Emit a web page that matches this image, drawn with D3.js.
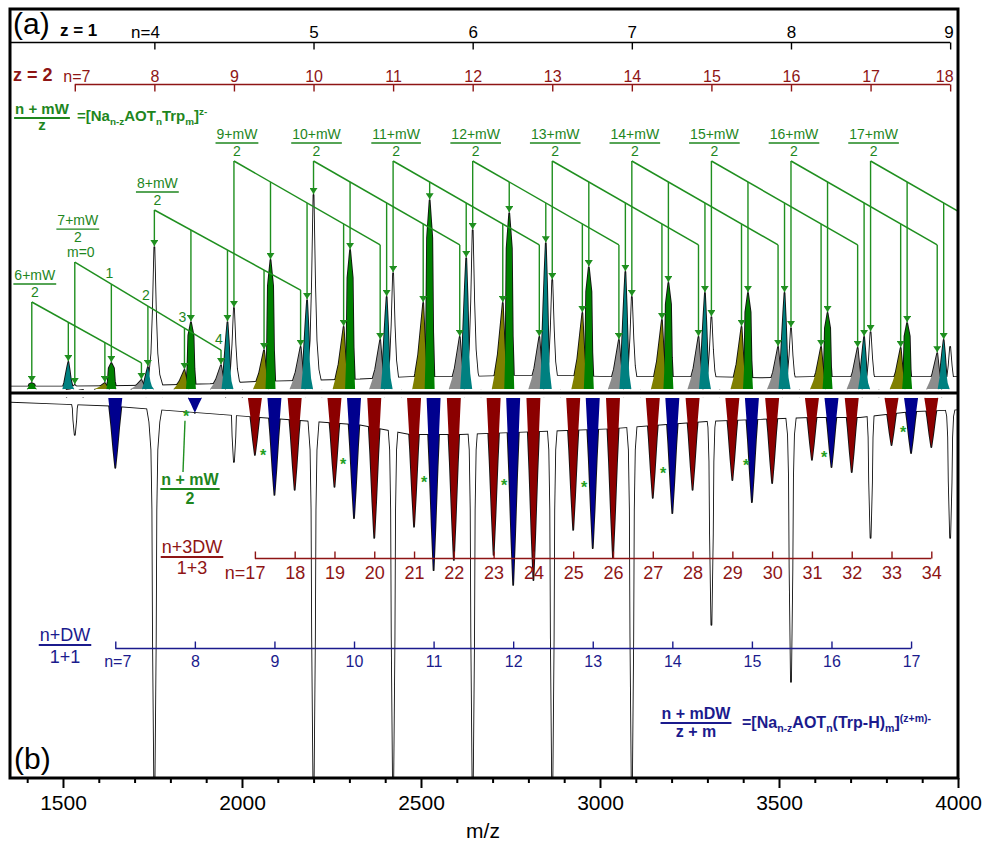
<!DOCTYPE html>
<html><head><meta charset="utf-8">
<script src="https://cdn.jsdelivr.net/npm/d3@7"></script>
<style>body{margin:0;background:#fff}svg{display:block;font-family:"Liberation Sans",Helvetica,Arial,sans-serif}</style>
</head><body><svg id="c" width="984" height="842"></svg>
<script>
// ---------------- data ----------------
const xMajor = [1500, 2000, 2500, 3000, 3500, 4000];
const xMinor = [1400,1600,1700,1800,1900,2100,2200,2300,2400,2600,2700,2800,2900,3100,3200,3300,3400,3600,3700,3800,3900];

// z = 1 cluster axis
const z1N  = [4, 5, 6, 7, 8, 9];
const z1Mz = [1755.25, 2199.81, 2644.37, 3088.93, 3533.49, 3978.05];
// z = 2 cluster axis
const z2N  = [7, 8, 9, 10, 11, 12, 13, 14, 15, 16, 17, 18];
const z2Mz = [1532.97, 1755.25, 1977.53, 2199.81, 2422.09, 2644.37, 2866.65, 3088.93, 3311.21, 3533.49, 3755.77, 3978.05];

// (a) peaks of [Na(n-z)AOTn Trp m]^2-  (intensity, % of panel height)
const topM0Mz  = [1532.97, 1755.25, 1977.53, 2199.81, 2422.09, 2644.37, 2866.65, 3088.93, 3311.21, 3533.49, 3755.77, 3978.05]; // n = 7..18
const topM0Int = [1.7, 59.4, 33.9, 81.2, 48.5, 66.5, 45.6, 38.5, 30.1, 25.5, 23.8, 17.6];
const topM1Mz  = [1412.85, 1635.09, 1857.37, 2079.65, 2301.93, 2524.21, 2746.49, 2968.77, 3191.05, 3413.33, 3635.61, 3857.89]; // n = 6..17
const topM1Int = [2.5, 10.9, 28, 54, 58.2, 79, 73.6, 51, 44.4, 40.2, 31.8, 27.6];
const topM2Mz  = [1514.92, 1737.2, 1959.48, 2181.76, 2404.04, 2626.32, 2848.6, 3070.88, 3293.16, 3515.44, 3737.72, 3960.0];   // n = 6..17
const topM2Int = [11.3, 9.2, 28, 37.2, 38.5, 54.8, 61, 49, 40.2, 40.2, 21.8, 20.5];
const topM3Mz  = [1617.04, 1839.32, 2061.6, 2283.88, 2506.16, 2728.44, 2950.72, 3173.0, 3395.28, 3617.56, 3839.84];           // n = 6..16
const topM3Int = [2.5, 8, 16.3, 26, 36, 36, 31.8, 28.9, 26, 17.6, 17.2];
const topM4Mz  = [1719.15, 1941.43, 2163.71, 2385.99, 2608.27, 2830.55, 3052.83, 3275.11, 3497.39, 3719.67, 3941.95];        // n = 6..16
const topM4Int = [3.8, 10, 17.6, 20.5, 21.8, 21.8, 20.5, 21.8, 17.6, 17.2, 15];
// (a) unresolved background level of the trace between peaks
const topBgMz  = [1352, 1491.7, 1631.3, 1771, 1910.7, 2050.3, 2190, 2329.7, 2469.3, 2609, 2748.7, 2888.3, 3028, 3167.6, 3307.3, 3447, 3586.6, 3726.3, 3866, 4000];
const topBgInt = [1, 1, 1.2, 1.5, 2, 3, 3.5, 4, 5, 5, 5.5, 5.5, 5, 5, 5, 4.5, 5, 5, 5, 5];

// annotation series (n + mW)/2
const annN        = [6, 7, 8, 9, 10, 11, 12, 13, 14, 15, 16, 17];
const annFirstM   = [1, 0, 0, 0, 0, 0, 0, 0, 0, 0, 0, 0];
const annStartInt = [36.4, 53.1, 74.9, 95.4, 95.4, 95.4, 95.4, 95.4, 95.4, 95.4, 95.4, 95.4];
const annEndInt   = [10.9, 16.3, 41.4, 60.3, 60.3, 60.3, 60.3, 60.3, 60.3, 60.3, 60.3, 60.3];
const annEndMz    = [1719.15, 1941.43, 2163.71, 2385.99, 2608.27, 2830.55, 3052.83, 3275.11, 3497.39, 3719.67, 3941.95, 4164.23];
const mLabels     = ['m=0', '1', '2', '3', '4'];

// (b) peaks (intensity downward, % of panel height)
const dwN   = [7, 8, 9, 10, 11, 12, 13, 14, 15, 16, 17];
const dwMz  = [1646.08, 1868.36, 2090.64, 2312.92, 2535.2, 2757.48, 2979.76, 3202.04, 3424.32, 3646.6, 3868.88];
const dwInt = [18.4, 3.9, 25.5, 31.6, 45.3, 49.2, 39.5, 30.3, 27.4, 18.2, 14.5];
const d3wN   = [17, 18, 19, 20, 21, 22, 23, 24, 25, 26, 27, 28, 29, 30, 31, 32, 33, 34];
const d3wMz  = [2036.05, 2147.19, 2258.33, 2369.47, 2480.61, 2591.75, 2702.89, 2814.03, 2925.17, 3036.31, 3147.45, 3258.59, 3369.73, 3480.87, 3592.01, 3703.15, 3814.29, 3925.43];
const d3wInt = [15, 24.2, 23.4, 36.8, 33.9, 42.6, 41.3, 47.9, 34.7, 42.1, 26.3, 24.2, 21.6, 22.4, 16.3, 19.5, 12.4, 12.9];
const botM0Mz  = [1532.97, 1755.25, 1977.53, 2199.81, 2422.09, 2644.37, 2866.65, 3088.93, 3311.21, 3533.49, 3755.77, 3978.05];
const botM0Int = [9.7, 105, 16.8, 105, 105, 105, 105, 105, 59.7, 74.7, 36.8, 36.8];
const astMz  = [1843.6, 2058.7, 2282.2, 2508.4, 2731.9, 2955.4, 3176.0, 3407.9, 3625.8, 3846.5];
const astInt = [3.9, 14.2, 16.6, 21.3, 22.1, 22.6, 18.9, 16.8, 14.7, 8.2];
// (b) unresolved background level of the trace between peaks
const botBgMz  = [1352, 1491.7, 1631.3, 1771, 1910.7, 2050.3, 2190, 2329.7, 2469.3, 2609, 2748.7, 2888.3, 3028, 3167.6, 3307.3, 3447, 3586.6, 3726.3, 3866, 4000];
const botBgInt = [1, 1.5, 2, 3, 4, 5, 6, 7, 9.5, 9.5, 9, 8.5, 8, 7, 6, 5.5, 5, 5, 3.5, 3];

// ---------------- styles ----------------
const COL = {red:'#8b0000', redT:'#8e1515', navy:'#00008e', navyT:'#1b1b8d', green:'#008000',
  gLine:'#1f8f1f', gText:'#1e861e', teal:'#008080', olive:'#808000', gray:'#8c8c8c'};
const tplNarrow = [[-9,0],[-5,.1],[-3,.25],[-1.5,.55],[0,1],[1.5,.55],[3,.25],[5,.1],[9,0]];
const tplRamp   = [[-11,0],[-8,.18],[-5,.4],[-2.5,.7],[0,1],[1.5,.6],[3,.25],[5,0]];
const tplTeal   = [[-6,0],[-4,.25],[-2.5,.55],[-1.2,.8],[0,1],[1.3,.7],[2.5,.35],[4,.12],[6,0]];
const tplBar    = [[-5,0],[-3.5,.3],[-2.6,.8],[0,1],[2.6,.8],[3.5,.3],[5,0]];
const tplV      = [[-7,0],[-4,.4],[-1.8,.75],[0,1],[1.8,.75],[4,.4],[7,0]];
const tplDeep   = [[-9,0],[-5,.06],[-3,.13],[-2,.28],[-1.4,.6],[0,1],[1.4,.6],[2,.28],[3,.13],[5,.06],[9,0]];

// ---------------- scales ----------------
const svg = d3.select('#c');
const x  = d3.scaleLinear().domain([1352, 4000]).range([10, 958]);
const yT = d3.scaleLinear().domain([0, 100]).range([389, 150]);
const yB = d3.scaleLinear().domain([0, 100]).range([398, 778]);

const defs = svg.append('defs');
defs.append('clipPath').attr('id','clipT').append('rect').attr('x',11).attr('y',10).attr('width',946).attr('height',382);
defs.append('clipPath').attr('id','clipB').append('rect').attr('x',11).attr('y',395).attr('width',946).attr('height',382);
defs.append('marker').attr('id','arr').attr('markerUnits','userSpaceOnUse').attr('markerWidth',6).attr('markerHeight',8)
  .attr('viewBox','0 0 6 8').attr('refX',6).attr('refY',4).attr('orient','auto')
  .append('path').attr('d','M0,0L6,4L0,8Z').attr('fill',COL.gLine);

function drawSpectrum(g, peaks, ys, bgMz, bgInt){
  const prof = p => { const cx = x(p.mz); return p.tpl.map(([dx,f]) => [cx + dx, ys(p.h * f)]); };
  const outline = p => d3.line()(prof(p));
  const shape = p => d3.line()(prof(p)) + 'Z';
  const bgPts = bgMz.map((m,i) => [x(m), ys(bgInt[i])]);
  const bgArea = d3.area().x(d => d[0]).y0(ys(0)).y1(d => d[1]);
  // pass 1: outlines
  g.append('path').attr('d', d3.line()(bgPts)).attr('fill','none').attr('stroke','#111').attr('stroke-width',1.8);
  g.selectAll('path.s').data(peaks).join('path').attr('class','s').attr('d', outline)
    .attr('fill','none').attr('stroke','#111').attr('stroke-width',1.8).attr('stroke-linejoin','round');
  // pass 2: fills (only the outer half of the union outline stays visible)
  g.append('path').attr('d', bgArea(bgPts)).attr('fill','#fff');
  g.selectAll('path.f').data(peaks.slice().sort((a,b)=>a.order-b.order)).join('path').attr('class','f')
    .attr('d', shape).attr('fill', d => d.fill);
}

// ---------------- panel (a) peaks ----------------
const topPeaks = [];
topM0Mz.forEach((mz,i)=>topPeaks.push({mz, h:topM0Int[i], fill:'#fff', tpl:tplNarrow, order:0}));
topM4Mz.forEach((mz,i)=>topPeaks.push({mz, h:topM4Int[i], fill:COL.gray, tpl:tplRamp, order:1}));
topM2Mz.forEach((mz,i)=>topPeaks.push({mz, h:topM2Int[i], fill:COL.teal, tpl:tplTeal, order:2}));
topM3Mz.forEach((mz,i)=>topPeaks.push({mz, h:topM3Int[i], fill:COL.olive, tpl:tplRamp, order:3}));
topM1Mz.forEach((mz,i)=>topPeaks.push({mz, h:topM1Int[i], fill:COL.green, tpl:tplBar, order:4}));
const gTop = svg.append('g').attr('clip-path','url(#clipT)');
drawSpectrum(gTop, topPeaks, yT, topBgMz, topBgInt);

// ---------------- panel (b) peaks ----------------
const botPeaks = [];
botM0Mz.forEach((mz,i)=>botPeaks.push({mz, h:botM0Int[i], fill:'#fff', tpl:tplDeep, order:0}));
d3wMz.forEach((mz,i)=>botPeaks.push({mz, h:d3wInt[i], fill:COL.red, tpl:tplV, order:1}));
dwMz.forEach((mz,i)=>botPeaks.push({mz, h:dwInt[i], fill:COL.navy, tpl:tplV, order:2}));
const gBot = svg.append('g').attr('clip-path','url(#clipB)');
drawSpectrum(gBot, botPeaks, yB, botBgMz, botBgInt);

// ---------------- annotations (a) ----------------
const mzByM  = [topM0Mz, topM1Mz, topM2Mz, topM3Mz, topM4Mz];
const intByM = [topM0Int, topM1Int, topM2Int, topM3Int, topM4Int];
function idx(m, n){ return m === 0 ? n - 7 : n - 6; }
const gAnn = svg.append('g').attr('clip-path','url(#clipT)');
annN.forEach((n,i) => {
  const m0 = annFirstM[i];
  const xs = x(mzByM[m0][idx(m0,n)]);
  const ys0 = yT(annStartInt[i]), ys1 = yT(annEndInt[i]);
  const xe = x(annEndMz[i]);
  gAnn.append('line').attr('x1',xs).attr('y1',ys0).attr('x2',xe).attr('y2',ys1)
    .attr('stroke',COL.gLine).attr('stroke-width',1.5);
  for (let m = m0; m <= 4; m++){
    const j = idx(m, n);
    const mz = mzByM[m][j];
    if (mz === undefined || mz > 4000) continue;
    const xm = x(mz);
    const yd = ys0 + (ys1 - ys0) * (xm - xs) / (xe - xs);
    gAnn.append('line').attr('x1',xm).attr('x2',xm).attr('y1',yd).attr('y2',yT(intByM[m][j]) - 1)
      .attr('stroke',COL.gLine).attr('stroke-width',1.4).attr('marker-end','url(#arr)');
    if (n === 7 && m > 0){
      svg.append('text').attr('x',xm - 2).attr('y',yd - 6).attr('text-anchor','middle')
        .attr('font-size',14).attr('fill',COL.gText).text(mLabels[m]);
    }
  }
  const top = n === 7 ? ys0 - 37 : ys0 - 22;
  const cx = xs + 3;
  const t = svg.append('text').attr('x',cx).attr('y',top).attr('text-anchor','middle')
    .attr('font-size',14).attr('fill',COL.gText).text(n + '+mW');
  const w = t.node().getComputedTextLength();
  svg.append('line').attr('x1',cx - w/2 - 1).attr('x2',cx + w/2 + 1).attr('y1',top + 4).attr('y2',top + 4)
    .attr('stroke',COL.gText).attr('stroke-width',1.4);
  svg.append('text').attr('x',cx).attr('y',top + 17).attr('text-anchor','middle')
    .attr('font-size',14).attr('fill',COL.gText).text('2');
  if (n === 7) svg.append('text').attr('x',cx + 3).attr('y',ys0 - 5).attr('text-anchor','middle')
    .attr('font-size',14).attr('fill',COL.gText).text(mLabels[0]);
});

// ---------------- annotations (b) ----------------
svg.append('g').selectAll('text').data(astMz).join('text')
  .attr('x', d => x(d)).attr('y', (d,i) => yB(astInt[i]) + 9).attr('text-anchor','middle')
  .attr('font-size',16).attr('font-weight','bold').attr('fill','#22a022').text('*');
svg.append('line').attr('x1',x(astMz[0]) - 1).attr('y1',yB(astInt[0]) + 8).attr('x2',183).attr('y2',472)
  .attr('stroke',COL.gLine).attr('stroke-width',1.4);

// ---------------- helpers for labels ----------------
function frac(cx, base, top, bottom, color, size, weight, gap){
  const t = svg.append('text').attr('x',cx).attr('y',base).attr('text-anchor','middle')
    .attr('font-size',size).attr('font-weight',weight).attr('fill',color).text(top);
  const w = t.node().getComputedTextLength();
  svg.append('line').attr('x1',cx - w/2 - 1).attr('x2',cx + w/2 + 1).attr('y1',base + 4).attr('y2',base + 4)
    .attr('stroke',color).attr('stroke-width',1.8);
  svg.append('text').attr('x',cx).attr('y',base + gap).attr('text-anchor','middle')
    .attr('font-size',size).attr('font-weight',weight).attr('fill',color).text(bottom);
}
function formula(x0, base, parts, color, size){
  const t = svg.append('text').attr('x',x0).attr('y',base).attr('font-size',size)
    .attr('font-weight','bold').attr('fill',color);
  let shift = 0;
  parts.forEach(([s, kind]) => {
    const target = kind === 'sub' ? 4 : kind === 'sup' ? -6 : 0;
    t.append('tspan').attr('dy', target - shift).attr('font-size', kind ? size * 0.66 : size).text(s);
    shift = target;
  });
}

// ---------------- cluster-size axes ----------------
function clusterAxis(mzArr, nArr, yPos, color, up, size, pad, firstAnchor, firstDx, lastEnd){
  const ax = (up ? d3.axisBottom(x) : d3.axisTop(x)).tickValues(mzArr).tickSize(-7).tickPadding(pad)
    .tickFormat((d,i) => (i === 0 ? 'n=' : '') + nArr[i]);
  const g = svg.append('g').attr('transform',`translate(0,${yPos})`).call(ax);
  g.select('.domain').remove();
  g.selectAll('line').attr('stroke',color).attr('stroke-width',1.4);
  g.selectAll('text').attr('font-size',size).attr('fill',color).attr('font-family',null);
  g.selectAll('.tick text').filter((d,i) => i === 0).attr('text-anchor',firstAnchor).attr('dx',firstDx);
  if (lastEnd) g.selectAll('.tick text').filter((d,i) => i === mzArr.length - 1).attr('text-anchor','end').attr('dx',3);
  return g;
}
const gz1 = clusterAxis(z1Mz, z1N, 42.5, '#000', false, 17, 5, 'end', 5, true);
gz1.append('line').attr('x1',10).attr('x2',x(z1Mz[z1Mz.length-1])).attr('stroke','#000').attr('stroke-width',1.4);
const gz2 = clusterAxis(z2Mz, z2N, 84.5, COL.redT, false, 16, 3, 'start', -12, true);
gz2.append('line').attr('x1',x(z2Mz[0])).attr('x2',x(z2Mz[z2Mz.length-1])).attr('stroke',COL.redT).attr('stroke-width',1.4);
const g3 = clusterAxis(d3wMz, d3wN, 558.5, COL.redT, true, 18, 8, 'end', 10, false);
g3.append('line').attr('x1',x(d3wMz[0])).attr('x2',x(d3wMz[d3wMz.length-1])).attr('stroke',COL.redT).attr('stroke-width',1.4);
const g1 = clusterAxis(dwMz, dwN, 648.5, COL.navyT, true, 16, 7, 'middle', 2, false);
g1.append('line').attr('x1',x(dwMz[0])).attr('x2',x(dwMz[dwMz.length-1])).attr('stroke',COL.navyT).attr('stroke-width',1.4);

// ---------------- static labels ----------------
svg.append('text').attr('x',13).attr('y',34).attr('font-size',30).text('(a)');
svg.append('text').attr('x',60).attr('y',36).attr('font-size',17).attr('font-weight','bold').text('z = 1');
svg.append('text').attr('x',13).attr('y',81).attr('font-size',18).attr('font-weight','bold').attr('fill',COL.redT).text('z = 2');
frac(42, 114, 'n + mW', 'z', COL.gText, 15, 'bold', 16);
formula(77, 121, [['=[Na'],['n-z','sub'],['AOT'],['n','sub'],['Trp'],['m','sub'],[']'],['z-','sup']], COL.gText, 15);
frac(190, 485, 'n + mW', '2', COL.gText, 16, 'bold', 19);
frac(192, 553, 'n+3DW', '1+3', COL.redT, 18, 'normal', 21);
frac(65, 641, 'n+DW', '1+1', COL.navyT, 18, 'normal', 22);
frac(696, 719, 'n + mDW', 'z + m', COL.navyT, 16, 'bold', 18);
formula(742, 728, [['=[Na'],['n-z','sub'],['AOT'],['n','sub'],['(Trp-H)'],['m','sub'],[']'],['(z+m)-','sup']], COL.navyT, 16);
svg.append('text').attr('x',14).attr('y',769).attr('font-size',30).text('(b)');

// ---------------- frame & x axis ----------------
svg.append('rect').attr('x',10).attr('y',9).attr('width',948).attr('height',769)
  .attr('fill','none').attr('stroke','#000').attr('stroke-width',3);
svg.append('line').attr('x1',10).attr('x2',958).attr('y1',393).attr('y2',393).attr('stroke','#000').attr('stroke-width',3);
const gx = svg.append('g').attr('transform','translate(0,778)')
  .call(d3.axisBottom(x).tickValues(xMajor).tickSize(10).tickPadding(7).tickFormat(d3.format('d')));
gx.select('.domain').remove();
gx.selectAll('line').attr('stroke','#000').attr('stroke-width',2);
gx.selectAll('text').attr('font-size',21).attr('fill','#000').attr('font-family',null);
const gm = svg.append('g').attr('transform','translate(0,778)')
  .call(d3.axisBottom(x).tickValues(xMinor).tickSize(5).tickFormat(''));
gm.select('.domain').remove();
gm.selectAll('line').attr('stroke','#000').attr('stroke-width',2);
svg.append('text').attr('x',483).attr('y',838).attr('text-anchor','middle').attr('font-size',21).text('m/z');
</script></body></html>
